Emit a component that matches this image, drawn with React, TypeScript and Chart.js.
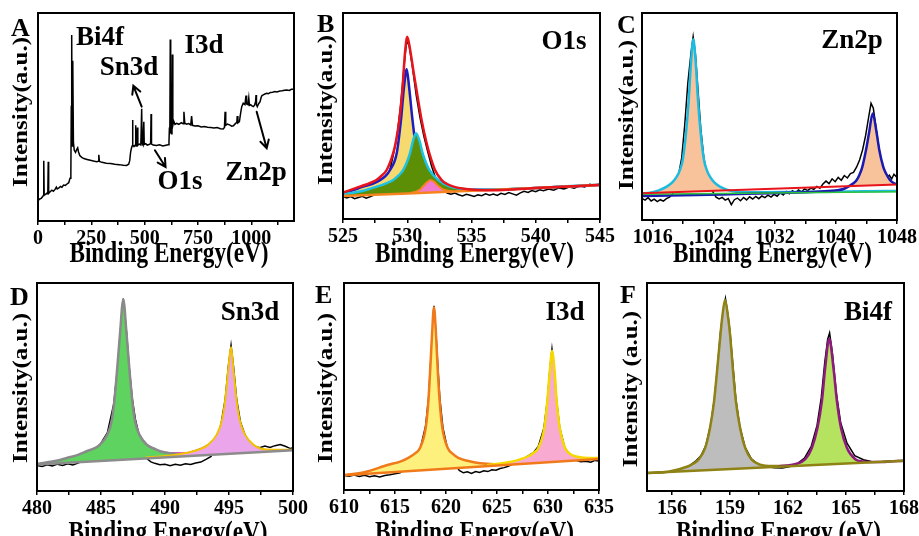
import React, { useEffect, useRef } from "react";
import { Chart, registerables } from "chart.js";
Chart.register(...registerables);

const FONT = "'Liberation Serif', 'Times New Roman', serif";
type P = [number, number];

// ---------------- Panel A : survey ----------------
const survey: P[] = [
[0,9.8],[8,10.6],[15,10.9],[22,11.8],[25,12.2],[27,29],[29,12.4],[35,12.8],[42,13.4],[46,13.2],[48,28.5],[50,13.3],[58,14.2],[65,14.8],[72,14.3],[80,15.2],[86,16.3],[90,15.4],[98,15.9],[105,16.6],[112,16.2],[120,17.3],[128,17.1],[136,17.8],[144,18.4],[150,20.5],[154,22],[156,55],[158,89.4],[160,36],[162,36],[164,77],[166,38],[170,34],[176,33],[182,34.5],[186,35.2],[190,33.2],[196,31.5],[205,30.6],[215,30],[230,29.6],[245,29.2],[260,28.8],[275,28.5],[282,28.7],[285,31.8],[288,28.6],[300,28.2],[320,27.8],[340,27.6],[360,27.3],[380,27.1],[400,26.8],[415,26.7],[425,27.3],[430,29],[434,33],[438,35],[441,36],[443,48.5],[445,36.5],[450,35.8],[456,36.5],[458,46],[460,36],[464,36.8],[466,45],[468,36.4],[475,37],[482,36.6],[486,54],[488,37.2],[492,36.5],[496,47.7],[498,36.8],[505,37.2],[512,36.5],[520,36.8],[528,37.2],[530,51.4],[532,37],[540,36.5],[555,36.3],[570,36.6],[585,36.1],[600,36.4],[610,36.6],[614,38],[616,45],[618,42],[620,87.2],[622,44],[626,42],[628,47],[630,80],[632,46],[636,48],[642,46.5],[650,47],[660,46.5],[672,47.3],[680,46.8],[684,52.5],[688,47],[697,46.5],[706,46.8],[716,46.2],[720,50.5],[724,46],[735,45.7],[750,45.8],[765,45.2],[780,45.4],[795,45.1],[810,44.9],[825,44.7],[840,44.9],[855,44.4],[868,44.2],[874,45],[877,52.5],[880,46],[888,46.6],[898,46.2],[908,45.6],[916,45.8],[925,46.8],[932,47.4],[934,50.5],[937,47.2],[944,47.8],[950,52],[955,55],[962,56.6],[970,56],[975,60.3],[978,56.2],[984,55.9],[988,59.2],[991,55.6],[997,55.9],[1003,55.3],[1009,55],[1015,55.6],[1020,57.5],[1022,60.6],[1024,56],[1028,55],[1035,56.5],[1041,57.4],[1046,59.5],[1050,60.3],[1058,60.8],[1066,61.2],[1072,61.4],[1080,61.2],[1090,61.8],[1100,61.9],[1110,62.2],[1120,62],[1134,62.5],[1145,62.6],[1155,62.9],[1166,63],[1178,62.8],[1188,63.3],[1200,63.3]
];
const surveyTicks = [0,125,250,375,500,625,750,875,1000,1125];
const surveyLabels = [0,250,500,750,1000];
const surveyArrows = [
  { from: [486, 55] as P, to: [447, 65] as P },
  { from: [548, 34] as P, to: [598, 26] as P },
  { from: [1025, 52.5] as P, to: [1072, 35] as P },
];

// ---------------- Panel B : O1s ----------------
const o1sRaw: P[] = [
[525.0,10.8],[525.3,10.2],[525.6,10.9],[525.9,9.9],[526.2,10.4],[526.5,11.0],[526.8,10.1],[527.1,10.8],[527.4,11.6],[527.7,12.4],[528.0,14.2],[528.3,17.8],[528.6,22.5],[528.9,30.5],[529.2,40],[529.5,56],[529.75,74],[529.95,86.5],[530.15,84],[530.4,74],[530.7,60],[531.0,49],[531.3,40],[531.6,32.5],[531.9,25.5],[532.2,20],[532.5,16.5],[532.8,14],[533.1,12.6],[533.4,12.0],[533.7,12.6],[534.0,11.8],[534.3,11.2],[534.6,12.0],[534.9,11.5],[535.2,10.9],[535.5,11.7],[535.8,11.3],[536.1,12.2],[536.4,11.6],[536.7,12.1],[537.0,11.4],[537.3,12.5],[537.6,11.9],[537.9,12.8],[538.2,12.2],[538.5,11.6],[538.8,12.7],[539.1,13.4],[539.4,12.9],[539.7,13.8],[540.0,13.3],[540.3,14.2],[540.6,13.7],[541.0,14.5],[541.4,14.0],[541.8,15.1],[542.2,14.6],[542.6,15.5],[543.0,15.0],[543.4,16.1],[543.8,15.6],[544.2,16.8],[544.6,16.3],[545.0,17.0]
];
const o1sBase: P[] = [[525,11.2],[530,12.4],[535,13.7],[540,15.1],[545,16.5]];
const o1sEnvelope: P[] = [
[525,12.8],[526.3,15.7],[527.0,17.2],[527.6,18.9],[528.0,21.0],[528.4,23.8],[528.9,31.9],[529.1,37],[529.38,48],[529.64,64.2],[529.82,80.4],[530.0,88.5],[530.27,80.4],[530.5,71],[530.68,64.2],[531.12,48],[531.5,37],[531.72,31.9],[532.16,23.8],[532.68,18.9],[533.1,17.0],[533.6,15.7],[534.3,14.8],[535.2,14.2],[536.5,14.0],[538,14.3],[540,15.0],[542.5,15.8],[545,16.6]
];
const o1sLattice: P[] = [
[525,12.2],[526.58,15.7],[527.3,17.1],[527.88,18.9],[528.3,20.8],[528.66,23.8],[529.18,31.9],[529.51,48],[529.75,64.2],[529.96,72.7],[530.14,64.2],[530.41,48],[530.74,31.9],[531.26,23.8],[532.04,18.9],[533.3,15.7],[535,14.2],[538,14.5],[542,15.6],[545,16.5]
];
const o1sVacancy: P[] = [
[525,12.0],[526.5,13.6],[527.62,15.7],[528.3,17.2],[528.91,18.9],[529.3,21],[529.69,23.8],[530.21,31.9],[530.45,38],[530.68,41.6],[530.95,38],[531.2,31.9],[531.72,23.8],[532.42,18.9],[533.33,15.7],[534.5,14.5],[536,14.2],[539,14.8],[542,15.8],[545,16.6]
];
const o1sAdsorbed: P[] = [
[530.3,12.7],[530.6,13.1],[531.0,14.3],[531.25,16],[531.55,17.9],[531.82,18.9],[532.1,18.0],[532.42,16],[532.75,14.5],[533.07,13.8],[533.5,13.6]
];
const o1sTicks = [525,527.5,530,532.5,535,537.5,540,542.5,545];
const o1sLabels = [525,530,535,540,545];

// ---------------- Panel C : Zn2p ----------------
const znRaw: P[] = [
[1014.6,10.4],[1015.0,9.6],[1015.4,10.8],[1015.8,9.2],[1016.2,10.1],[1016.6,8.9],[1017.0,9.8],[1017.4,9.1],[1017.8,10.3],[1018.2,11.0],[1018.6,12.5],[1019.0,16],[1019.4,22],[1019.8,30],[1020.2,46],[1020.6,66],[1021.0,80],[1021.3,88.5],[1021.6,80],[1021.95,62],[1022.3,44],[1022.7,30],[1023.1,22],[1023.5,17],[1023.9,13.5],[1024.3,11.0],[1024.7,10.2],[1025.1,10.9],[1025.5,9.6],[1025.9,10.4],[1026.3,7.4],[1026.7,9.8],[1027.1,10.6],[1027.5,9.3],[1027.9,10.9],[1028.3,9.7],[1028.7,11.2],[1029.1,10.1],[1029.5,11.4],[1029.9,10.3],[1030.3,11.6],[1030.7,10.8],[1031.1,12.0],[1031.5,11.1],[1031.9,12.4],[1032.3,11.5],[1032.7,13.2],[1033.1,12.1],[1033.5,13.8],[1033.9,12.7],[1034.3,14.1],[1034.7,13.2],[1035.1,14.5],[1035.5,13.6],[1035.9,15.0],[1036.3,14.2],[1036.7,15.4],[1037.1,14.8],[1037.5,16.2],[1037.9,15.3],[1038.3,17.4],[1038.7,18.8],[1039.1,17.6],[1039.5,19.9],[1039.9,18.5],[1040.3,20.6],[1040.7,19.2],[1041.1,21.5],[1041.5,20.3],[1041.9,22.4],[1042.3,23],[1042.7,25.5],[1043.1,29],[1043.5,34],[1043.9,41],[1044.3,50],[1044.6,56.4],[1044.9,54],[1045.2,46],[1045.5,38],[1045.8,31],[1046.1,26],[1046.4,22.8],[1046.7,20.5],[1047.0,21.6],[1047.3,19.8],[1047.6,22.1],[1048,20.6]
];
const znBackground: P[] = [[1014.6,12.9],[1048,17.2]];
const znGreen: P[] = [[1014.6,12.4],[1048,13.6]];
const zn2p3: P[] = [
[1014.6,12.8],[1015.65,13.2],[1016.8,14.3],[1017.84,16.1],[1018.6,18.3],[1019.15,20.9],[1019.6,24.5],[1019.93,29],[1020.36,41.9],[1020.72,58],[1020.98,74],[1021.32,87.3],[1021.67,74],[1021.93,58],[1022.29,41.9],[1022.72,29],[1023.1,24.0],[1023.5,20.9],[1024.1,18.0],[1024.8,16.1],[1025.8,14.5],[1027.0,13.7],[1030,13.4],[1035,13.5],[1040,13.7],[1044,13.9],[1048,14.0]
];
const zn2p1: P[] = [
[1014.6,11.6],[1020,11.9],[1025,12.3],[1030,12.8],[1035,13.3],[1038,13.8],[1040.2,14.4],[1041.0,15.0],[1041.62,16.1],[1042.2,17.5],[1042.72,19.3],[1043.1,22],[1043.46,25.7],[1043.94,33.8],[1044.33,41.9],[1044.82,51.5],[1045.34,41.9],[1045.68,33.8],[1046.2,25.7],[1046.6,22.2],[1047.08,19.3],[1047.5,18.0],[1048,17.2]
];
const znTicks = [1016,1020,1024,1028,1032,1036,1040,1044,1048];
const znLabels = [1016,1024,1032,1040,1048];

// ---------------- Panel D : Sn3d ----------------
const snRaw: P[] = [
[480,12.3],[480.4,11.8],[480.8,12.6],[481.2,12.0],[481.6,12.9],[482.0,12.3],[482.4,13.1],[482.8,12.5],[483.2,13.4],[483.6,14.5],[484.0,16.2],[484.5,19.5],[485,23],[485.5,28],[486.0,42],[486.3,60],[486.5,76],[486.74,92.5],[487.0,76],[487.2,60],[487.45,44],[487.7,34],[488.0,26.5],[488.3,20],[488.6,15.5],[488.9,14.0],[489.2,13.3],[489.6,12.6],[490.0,12.9],[490.4,12.2],[490.8,12.8],[491.2,12.4],[491.6,13.1],[492.0,12.7],[492.4,13.5],[492.8,13.9],[493.2,15.2],[493.6,16.6],[494.0,23],[494.4,33],[494.7,44],[494.95,60],[495.16,70],[495.35,60],[495.6,44],[495.9,33],[496.25,27],[496.6,23.5],[497.0,21.5],[497.4,20.8],[497.8,21.6],[498.2,20.9],[498.6,21.8],[499.0,22.3],[499.4,21.5],[499.8,20.4],[500,20.8]
];
const snBase: P[] = [[480,12.7],[500,19.6]];
const snEnvelope: P[] = [[488.2,24.5],[488.57,22.3],[489.61,19.1],[490.6,18.3],[491.6,18.3],[492.21,19.1],[493.38,22.3],[493.8,24.5]];
const sn3d52: P[] = [
[480,13.0],[481.5,14.5],[482.32,15.9],[483.2,17.4],[483.88,19.1],[484.5,20.6],[484.92,22.3],[485.49,27.1],[485.83,33.5],[486.04,43.1],[486.27,59.1],[486.48,75.2],[486.74,92],[487.0,75.2],[487.21,59.1],[487.45,43.1],[487.66,33.5],[488.0,27.1],[488.57,22.3],[489.2,20.2],[489.61,19.1],[490.6,18.0],[492,17.5],[494,17.9]
];
const sn3d32: P[] = [
[488.5,16.2],[490,16.8],[491.2,17.8],[492.21,19.1],[493.38,22.3],[494.04,27.1],[494.43,33.5],[494.69,43.1],[494.95,59.1],[495.16,69.2],[495.34,59.1],[495.6,43.1],[495.86,33.5],[496.25,27.1],[496.9,22.3],[497.94,19.9],[499,19.8],[500,19.9]
];
const snTicks = [480,482.5,485,487.5,490,492.5,495,497.5,500];
const snLabels = [480,485,490,495,500];

// ---------------- Panel E : I3d ----------------
const iRaw: P[] = [
[610,7.0],[610.5,6.6],[611,7.2],[611.5,6.5],[612,7.1],[612.5,6.4],[613,6.9],[613.5,6.3],[614,7.0],[614.5,7.4],[615,7.9],[615.5,8.3],[616,10.2],[616.5,12.5],[617,16.5],[617.5,20.5],[618.0,31],[618.3,45],[618.5,62],[618.7,78],[618.82,89],[619.0,77],[619.2,60],[619.4,44],[619.7,30],[620.1,21],[620.5,16.5],[620.9,12.5],[621.3,9.5],[621.7,8.3],[622.1,8.8],[622.5,8.0],[622.9,8.9],[623.3,8.5],[623.7,9.3],[624.1,8.9],[624.5,9.8],[624.9,9.6],[625.3,10.4],[625.7,10.8],[626.1,11.5],[626.6,12.6],[627.1,13.8],[627.6,15.0],[628.1,16.6],[628.6,18.2],[629.05,21],[629.6,30],[629.93,43],[630.2,59],[630.39,68],[630.6,59],[630.85,43],[631.15,30],[631.65,20.5],[632.2,16.5],[632.7,14.5],[633.2,13.6],[633.7,13.9],[634.2,13.4],[634.6,14.3],[635,14.0]
];
const iBase: P[] = [[610,7.1],[635,15]];
const i3d52: P[] = [
[610,7.2],[612,8.6],[614.35,12.2],[615.5,13.7],[616.31,15.5],[617.0,17.8],[617.45,20.3],[618.01,30],[618.27,42.8],[618.46,58.9],[618.63,75],[618.82,88.3],[619.02,75],[619.18,58.9],[619.38,42.8],[619.64,30],[620.17,20.3],[620.7,17.3],[621.2,15.5],[622.2,14.0],[623.17,13.0],[625,12.4]
];
const i3d32: P[] = [
[624,12.0],[626.1,13.4],[627.2,14.7],[628.07,16.3],[628.6,18.0],[629.05,20.3],[629.64,30],[629.93,42.8],[630.2,58.9],[630.39,67.3],[630.62,58.9],[630.85,42.8],[631.15,30],[631.67,20.3],[632.1,17.7],[632.65,16.3],[633.5,15.6],[635,15.4]
];
const iTicks = [610,612.5,615,617.5,620,622.5,625,627.5,630,632.5,635];
const iLabels = [610,615,620,625,630,635];

// ---------------- Panel F : Bi4f ----------------
const biRaw: P[] = [
[154.7,8.6],[155.2,8.9],[155.7,9.0],[156.2,9.5],[156.6,10.6],[156.9,12.2],[157.2,14.2],[157.5,17],[157.75,22],[158.0,32],[158.2,45],[158.35,60],[158.5,76],[158.62,85],[158.76,92.5],[158.9,84],[159.0,76],[159.15,60],[159.3,44],[159.5,31],[159.78,21],[160.1,15.5],[160.5,12.5],[160.9,11.6],[161.3,11.2],[161.7,11.0],[162.1,11.8],[162.5,13.3],[162.85,15.8],[163.2,21.5],[163.5,31.5],[163.72,45],[163.9,62],[164.05,73],[164.15,76],[164.3,66],[164.5,47],[164.72,33],[165.05,23],[165.45,17],[165.9,15.0],[166.3,14.2],[166.8,14.1],[167.3,14.4],[168,14.7]
];
const biBase: P[] = [[154.7,8.65],[168,14.6]];
const bi4f72: P[] = [
[154.7,8.7],[155.8,9.3],[156.84,11.9],[157.1,13.2],[157.36,15],[157.71,20.7],[157.96,30.3],[158.17,43.1],[158.34,59.1],[158.5,75.1],[158.59,83.2],[158.74,92],[158.9,83.2],[159.0,75.1],[159.14,59.1],[159.3,43.1],[159.52,30.3],[159.78,20.7],[160.12,15],[160.55,12.7],[161.2,12.0],[162,12.1]
];
const bi4f52: P[] = [
[161.5,11.8],[162.4,13.0],[162.89,15.3],[163.23,20.7],[163.52,30.3],[163.75,43.1],[163.92,59.1],[164.13,73.2],[164.35,59.1],[164.53,43.1],[164.74,30.3],[165.05,20.7],[165.48,15.3],[165.9,14.2],[166.25,13.9],[167,14.0],[168,14.6]
];
const biTicks = [156,157.5,159,160.5,162,163.5,165,166.5,168];
const biLabels = [156,159,162,165,168];

// ---------------- helpers ----------------
const pts = (arr: P[]) => arr.map(([x, y]) => ({ x, y }));

function ds(arr: P[], color: string, width: number, order: number, extra: any = {}) {
  return {
    data: pts(arr),
    borderColor: color,
    borderWidth: width,
    pointRadius: 0,
    fill: false,
    tension: 0,
    order,
    ...extra,
  };
}
function fit(arr: P[], color: string, width: number, order: number, fillTarget?: number, fillColor?: string) {
  const extra: any = { cubicInterpolationMode: "monotone" };
  if (fillTarget !== undefined) {
    extra.fill = { target: fillTarget, above: fillColor, below: "rgba(0,0,0,0)" };
  }
  return ds(arr, color, width, order, extra);
}

interface Label { text: string; x: number; y: number }
interface Panel {
  key: string; left: number; top: number; width: number; height: number;
  area: { l: number; t: number; r: number; b: number };
  xmin: number; xmax: number; ticks: number[]; tickLabels: number[];
  datasets: any[];
  letter: string; letterPos: [number, number];
  labels: Label[];
  xTitle: string; xTitleY: number;
  yTitle: string; yTitlePos: [number, number];
  arrows?: { from: P; to: P }[];
}

const PANELS: Panel[] = [
  {
    key: "A", left: 0, top: 0, width: 320, height: 268,
    area: { l: 38, t: 13, r: 26, b: 47 },
    xmin: 0, xmax: 1200, ticks: surveyTicks, tickLabels: surveyLabels,
    datasets: [ds(survey, "#000", 1.5, 1)],
    letter: "A", letterPos: [11, 36],
    labels: [
      { text: "Bi4f", x: 100, y: 45 },
      { text: "Sn3d", x: 129, y: 75 },
      { text: "I3d", x: 204, y: 53 },
      { text: "O1s", x: 180, y: 189 },
      { text: "Zn2p", x: 256, y: 180 },
    ],
    xTitle: "Binding Energy(eV)", xTitleY: 262,
    yTitle: "Intensity(a.u.)", yTitlePos: [22, 112],
    arrows: surveyArrows,
  },
  {
    key: "B", left: 305, top: 0, width: 320, height: 268,
    area: { l: 38, t: 13, r: 25, b: 49 },
    xmin: 525, xmax: 545, ticks: o1sTicks, tickLabels: o1sLabels,
    datasets: [
      ds(o1sBase, "#F5841F", 2.5, 3),
      ds(o1sRaw, "#000", 1.5, 9),
      fit(o1sLattice, "#1C1CC4", 2.5, 8, 0, "#F6DA70"),
      fit(o1sVacancy, "#1EC3E3", 2.5, 7, 0, "#5C8E06"),
      fit(o1sAdsorbed, "#F5841F", 2, 6, 0, "#F27BCF"),
      fit(o1sEnvelope, "#E8141B", 2.5, 1),
    ],
    letter: "B", letterPos: [12, 32],
    labels: [{ text: "O1s", x: 259, y: 49 }],
    xTitle: "Binding Energy(eV)", xTitleY: 262,
    yTitle: "Intensity(a.u.)", yTitlePos: [22, 110],
  },
  {
    key: "C", left: 610, top: 0, width: 309, height: 268,
    area: { l: 32, t: 13, r: 22, b: 48 },
    xmin: 1014.6, xmax: 1048, ticks: znTicks, tickLabels: znLabels,
    datasets: [
      ds(znBackground, "#E8141B", 2, 3),
      ds(znRaw, "#000", 1.5, 9),
      fit(zn2p3, "#1EBBE0", 2.5, 7, 0, "#F8C39B"),
      fit(zn2p1, "#1A1AB0", 2.5, 6, 0, "#F8C39B"),
      ds(znGreen, "#2FC23A", 1.5, 5),
    ],
    letter: "C", letterPos: [7, 33],
    labels: [{ text: "Zn2p", x: 242, y: 48 }],
    xTitle: "Binding Energy(eV)", xTitleY: 262,
    yTitle: "Intensity(a.u.)", yTitlePos: [18, 115],
  },
  {
    key: "D", left: 0, top: 268, width: 320, height: 268,
    area: { l: 37, t: 15, r: 27, b: 45 },
    xmin: 480, xmax: 500, ticks: snTicks, tickLabels: snLabels,
    datasets: [
      ds(snBase, "#8C8C8C", 2.5, 3),
      ds(snRaw, "#000", 1.5, 9),
      fit(sn3d52, "#8A8A8A", 2.5, 7, 0, "#5FD360"),
      fit(sn3d32, "#F2C200", 2, 6, 0, "#EBA6EB"),
      fit(snEnvelope, "#E010C8", 1.5, 8),
    ],
    letter: "D", letterPos: [10, 37],
    labels: [{ text: "Sn3d", x: 250, y: 52 }],
    xTitle: "Binding Energy(eV)", xTitleY: 273,
    yTitle: "Intensity(a.u.)", yTitlePos: [22, 120],
  },
  {
    key: "E", left: 305, top: 268, width: 320, height: 268,
    area: { l: 39, t: 15, r: 26, b: 46 },
    xmin: 610, xmax: 635, ticks: iTicks, tickLabels: iLabels,
    datasets: [
      ds(iBase, "#F07A1A", 2.5, 3),
      ds(iRaw, "#000", 1.5, 9),
      fit(i3d52, "#F07A1A", 2.5, 7, 0, "#FDF07C"),
      fit(i3d32, "#F5D800", 2.5, 6, 0, "#F8AAD0"),
    ],
    letter: "E", letterPos: [10, 35],
    labels: [{ text: "I3d", x: 260, y: 52 }],
    xTitle: "Binding Energy(eV)", xTitleY: 273,
    yTitle: "Intensity(a.u.)", yTitlePos: [22, 120],
  },
  {
    key: "F", left: 610, top: 268, width: 309, height: 268,
    area: { l: 37, t: 15, r: 15, b: 45 },
    xmin: 154.7, xmax: 168, ticks: biTicks, tickLabels: biLabels,
    datasets: [
      ds(biBase, "#8E8214", 2.5, 3),
      ds(biRaw, "#000", 1.5, 9),
      fit(bi4f72, "#8E8214", 2.5, 7, 0, "#BDBDBD"),
      fit(bi4f52, "#8E1A7E", 2.5, 6, 0, "#B5E25F"),
    ],
    letter: "F", letterPos: [10, 35],
    labels: [{ text: "Bi4f", x: 258, y: 52 }],
    xTitle: "Binding Energy (eV)", xTitleY: 273,
    yTitle: "Intensity (a.u.)", yTitlePos: [22, 121],
  },
];

function panelPlugin(p: Panel) {
  return {
    id: "panel" + p.key,
    afterDatasetsDraw(chart: any) {
      const ctx = chart.ctx as CanvasRenderingContext2D;
      const a = chart.chartArea;
      ctx.save();
      ctx.strokeStyle = "#000";
      ctx.lineWidth = 2;
      ctx.strokeRect(a.left, a.top, a.right - a.left, a.bottom - a.top);
      ctx.fillStyle = "#000";
      ctx.textBaseline = "alphabetic";
      ctx.textAlign = "left";
      ctx.font = `bold 26px ${FONT}`;
      ctx.fillText(p.letter, p.letterPos[0], p.letterPos[1]);
      ctx.textAlign = "center";
      ctx.font = `bold 27px ${FONT}`;
      for (const l of p.labels) ctx.fillText(l.text, l.x, l.y);
      // x title
      ctx.save();
      ctx.translate((a.left + a.right) / 2 + 3, p.xTitleY);
      ctx.scale(0.8, 1);
      ctx.font = `bold 29px ${FONT}`;
      ctx.fillText(p.xTitle, 0, 0);
      ctx.restore();
      // y title
      ctx.save();
      ctx.translate(p.yTitlePos[0], p.yTitlePos[1]);
      ctx.scale(0.85, 1);
      ctx.rotate(-Math.PI / 2);
      ctx.textBaseline = "middle";
      ctx.font = `bold 25px ${FONT}`;
      ctx.fillText(p.yTitle, 0, 0);
      ctx.restore();
      // arrows
      if (p.arrows) {
        const xs = chart.scales.x, ys = chart.scales.y;
        ctx.lineWidth = 2;
        ctx.lineCap = "round";
        for (const ar of p.arrows) {
          const x1 = xs.getPixelForValue(ar.from[0]), y1 = ys.getPixelForValue(ar.from[1]);
          const x2 = xs.getPixelForValue(ar.to[0]), y2 = ys.getPixelForValue(ar.to[1]);
          const ang = Math.atan2(y2 - y1, x2 - x1);
          const L = 9, s = 0.5;
          ctx.beginPath();
          ctx.moveTo(x1, y1);
          ctx.lineTo(x2, y2);
          ctx.moveTo(x2 - L * Math.cos(ang - s), y2 - L * Math.sin(ang - s));
          ctx.lineTo(x2, y2);
          ctx.lineTo(x2 - L * Math.cos(ang + s), y2 - L * Math.sin(ang + s));
          ctx.stroke();
        }
      }
      ctx.restore();
    },
  };
}

function makeConfig(p: Panel): any {
  return {
    type: "line",
    data: { datasets: p.datasets },
    options: {
      responsive: false,
      animation: false,
      events: [],
      layout: { padding: { left: 0, top: p.area.t, right: p.area.r, bottom: 0 } },
      plugins: { legend: { display: false }, tooltip: { enabled: false }, title: { display: false } },
      elements: { point: { radius: 0 } },
      scales: {
        x: {
          type: "linear",
          min: p.xmin,
          max: p.xmax,
          afterBuildTicks: (s: any) => { s.ticks = p.ticks.map((v) => ({ value: v })); },
          afterFit: (s: any) => { s.height = p.area.b; s.paddingLeft = 0; s.paddingRight = 0; },
          ticks: {
            autoSkip: false,
            maxRotation: 0,
            padding: 2,
            color: "#000",
            font: { family: FONT, weight: "bold", size: 20 },
            callback: (v: number) => (p.tickLabels.includes(v) ? String(v) : ""),
          },
          grid: { display: true, drawOnChartArea: false, drawTicks: true, tickLength: 4, color: "#000", lineWidth: 1.5 },
          border: { display: false },
        },
        y: {
          type: "linear",
          min: 0,
          max: 100,
          afterFit: (s: any) => { s.width = p.area.l; s.paddingTop = 0; s.paddingBottom = 0; },
          ticks: { display: false },
          grid: { display: false },
          border: { display: false },
        },
      },
    },
    plugins: [panelPlugin(p)],
  };
}

function PanelChart({ p }: { p: Panel }) {
  const ref = useRef<HTMLCanvasElement>(null);
  useEffect(() => {
    const chart = new Chart(ref.current as HTMLCanvasElement, makeConfig(p));
    return () => chart.destroy();
  }, [p]);
  return (
    <canvas
      ref={ref}
      width={p.width}
      height={p.height}
      style={{ position: "absolute", left: p.left, top: p.top, width: p.width, height: p.height }}
    />
  );
}

export default function App() {
  return (
    <div style={{ position: "fixed", left: 0, top: 0, width: 919, height: 536, overflow: "hidden", background: "#fff" }}>
      {PANELS.map((p) => (
        <PanelChart key={p.key} p={p} />
      ))}
    </div>
  );
}
